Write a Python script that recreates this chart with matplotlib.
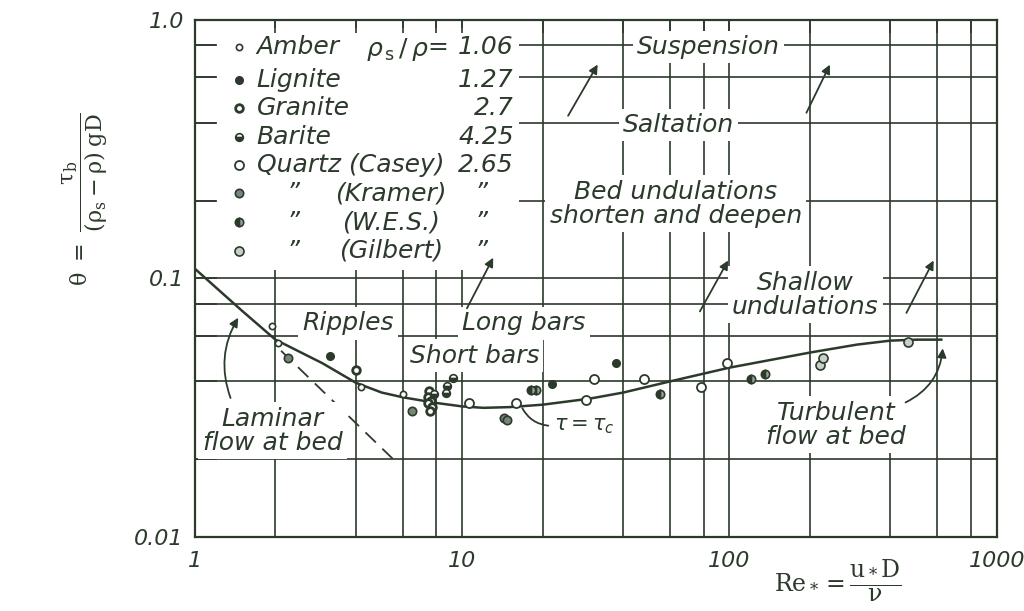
import matplotlib
matplotlib.use("Agg")
import matplotlib.pyplot as plt
from matplotlib.patches import Rectangle
from matplotlib.ticker import LogLocator, NullFormatter, FixedLocator, FixedFormatter

ink = '#2c3a2c'

# Shields curve (critical shear stress)
curve_re = [1, 1.5, 2, 3, 4, 5, 6, 8, 10, 12, 15, 20, 30, 40, 60, 100, 200, 300, 400, 500, 620]
curve_theta = [0.109, 0.075, 0.058, 0.047, 0.0395, 0.0362, 0.0347, 0.0330, 0.0320, 0.0316,
               0.0318, 0.0325, 0.0343, 0.0362, 0.0400, 0.0452, 0.0517, 0.0555, 0.0575, 0.058, 0.058]

# laminar asymptote (dashed)
laminar_re = [2.1, 5.6]
laminar_theta = [0.0525, 0.0197]

# experimental points per material
amber_re = [1.94, 2.04, 4.17, 6.0]
amber_th = [0.0657, 0.0565, 0.0381, 0.0358]
lignite_re = [3.19, 21.7, 37.5]
lignite_th = [0.0503, 0.0392, 0.0472]
granite_re = [4.02, 7.5, 7.47, 7.66, 7.43, 7.7, 7.6]
granite_th = [0.0444, 0.0368, 0.0349, 0.0337, 0.0330, 0.0318, 0.0306]
barite_re = [7.86, 8.7, 8.8, 9.2]
barite_th = [0.0358, 0.0362, 0.0385, 0.0413]
casey_re = [10.6, 15.9, 29, 31, 47.9, 78, 97.5]
casey_th = [0.0331, 0.0331, 0.0340, 0.0410, 0.0410, 0.0381, 0.0472]
kramer_re = [2.22, 6.5, 14.3, 14.7]
kramer_th = [0.0494, 0.0308, 0.0289, 0.0284]
wes_re = [18.1, 18.9, 55, 120, 136]
wes_th = [0.0371, 0.0371, 0.0358, 0.0410, 0.0428]
gilbert_re = [218, 224, 467]
gilbert_th = [0.0464, 0.0494, 0.057]

names = ['Amber', 'Lignite', 'Granite', 'Barite', 'Quartz (Casey)', '(Kramer)', '(W.E.S.)', '(Gilbert)']
ratios = ['1.06', '1.27', '2.7', '4.25', '2.65', '\u201d', '\u201d', '\u201d']

styles = [
    dict(marker='o', ms=4.5, mfc='white', mec=ink, mew=1.2),
    dict(marker='o', ms=5.5, mfc=ink, mec=ink, mew=1.0),
    dict(marker='o', ms=5.5, mfc='white', mec=ink, mew=2.0),
    dict(marker='o', ms=5.5, mfc=ink, mec=ink, mew=1.2, fillstyle='bottom', markerfacecoloralt='white'),
    dict(marker='o', ms=6.5, mfc='white', mec=ink, mew=1.3),
    dict(marker='o', ms=6, mfc='#7a857a', mec=ink, mew=1.2),
    dict(marker='o', ms=6, mfc=ink, mec=ink, mew=1.2, fillstyle='left', markerfacecoloralt='#9aa39a'),
    dict(marker='o', ms=6.5, mfc='#c8cec8', mec=ink, mew=1.2),
]
series = [(amber_re, amber_th), (lignite_re, lignite_th), (granite_re, granite_th),
          (barite_re, barite_th), (casey_re, casey_th), (kramer_re, kramer_th),
          (wes_re, wes_th), (gilbert_re, gilbert_th)]

grid_x = [2, 4, 6, 8, 10, 20, 40, 60, 80, 100, 200, 400, 600, 800]
grid_y = [0.02, 0.04, 0.06, 0.08, 0.1, 0.2, 0.4, 0.6, 0.8]

fig = plt.figure(figsize=(10.24, 6.11), dpi=100)
ax = fig.add_axes([0.1904, 0.1211, 0.783, 0.8462])
ax.set_xscale('log')
ax.set_yscale('log')
ax.set_xlim(1, 1000)
ax.set_ylim(0.01, 1.0)

for gx in grid_x:
    ax.axvline(gx, color=ink, lw=1.2, zorder=1)
for gy in grid_y:
    ax.axhline(gy, color=ink, lw=1.2, zorder=1)

# blank area under the key
ax.add_patch(Rectangle((1.2, 0.108), 16.3 - 1.2, 0.93 - 0.108, facecolor='white',
                       edgecolor='none', zorder=1.2))

for sp in ax.spines.values():
    sp.set_color(ink)
    sp.set_linewidth(1.6)

ax.xaxis.set_major_locator(FixedLocator([1, 10, 100, 1000]))
ax.xaxis.set_major_formatter(FixedFormatter(['1', '10', '100', '1000']))
ax.yaxis.set_major_locator(FixedLocator([0.01, 0.1, 1.0]))
ax.yaxis.set_major_formatter(FixedFormatter(['0.01', '0.1', '1.0']))
ax.xaxis.set_minor_locator(LogLocator(subs=[2, 4, 6, 8]))
ax.yaxis.set_minor_locator(LogLocator(subs=[2, 4, 6, 8]))
ax.xaxis.set_minor_formatter(NullFormatter())
ax.yaxis.set_minor_formatter(NullFormatter())
ax.tick_params(axis='x', which='both', direction='in', bottom=False, top=True,
               length=9, width=1.2, color=ink, pad=10)
ax.tick_params(axis='y', which='both', direction='in', left=True, right=False,
               length=16, width=1.2, color=ink, pad=8)
for lab in ax.get_xticklabels() + ax.get_yticklabels():
    lab.set_fontstyle('italic')
    lab.set_fontsize(16)
    lab.set_color(ink)

ax.plot(curve_re, curve_theta, color=ink, lw=1.8, zorder=2)
ax.plot(laminar_re, laminar_theta, color=ink, lw=1.3, ls=(0, (8, 5)), zorder=2)

for (xs, ys), st in zip(series, styles):
    ax.plot(xs, ys, ls='none', zorder=3, **st)

# key
tk = dict(color=ink, fontsize=18, fontstyle='italic', va='center', zorder=4)
key_y = [0.786, 0.585, 0.456, 0.352, 0.274, 0.214, 0.165, 0.128]
for i, (nm, r, st) in enumerate(zip(names, ratios, styles)):
    y = key_y[i]
    ax.plot([1.46], [y], ls='none', zorder=4, **st)
    if i < 5:
        ax.text(1.70, y, nm, ha='left', **tk)
        ax.text(15.6, y, r, ha='right', **tk)
    else:
        ax.text(2.32, y, '\u201d', ha='center', **tk)
        ax.text(5.4, y, nm, ha='center', **tk)
        ax.text(11.8, y, '\u201d', ha='center', **tk)
ax.text(5.7, 0.77, r'$\rho_{\,\mathrm{s}}\,/\,\rho$', ha='center', color=ink, fontsize=18,
        va='center', zorder=4)
ax.text(8.9, 0.786, '=', ha='right', color=ink, fontsize=18, va='center', zorder=4)

# regime labels
box = dict(facecolor='white', edgecolor='none', pad=3)
lab = dict(color=ink, fontsize=18, fontstyle='italic', ha='center', va='center', zorder=4, bbox=box)
ax.text(83.5, 0.786, 'Suspension', **lab)
ax.text(64.5, 0.392, 'Saltation', **lab)
ax.text(63, 0.195, 'Bed undulations\nshorten and deepen', linespacing=1.0, **lab)
ax.text(192, 0.0867, 'Shallow\nundulations', linespacing=1.0, **lab)
ax.text(3.75, 0.067, 'Ripples', **lab)
ax.text(17.0, 0.067, 'Long bars', **lab)
ax.text(11.1, 0.0503, 'Short bars', **lab)
ax.text(1.95, 0.0258, 'Laminar\nflow at bed', linespacing=1.0, **lab)
ax.text(250, 0.0272, 'Turbulent\nflow at bed', linespacing=1.0, **lab)
ax.text(22, 0.0269, r'$\tau = \tau_c$', color=ink, fontsize=15, ha='left', va='center',
        zorder=4, bbox=dict(facecolor='white', edgecolor='none', pad=1))

arr = dict(arrowstyle='-|>', color=ink, lw=1.3, mutation_scale=13)
for tail, head in [((24.6, 0.417), (32.5, 0.687)),
                   ((192, 0.428), (240, 0.687)),
                   ((10.3, 0.075), (13.2, 0.123)),
                   ((76.6, 0.073), (100, 0.12)),
                   ((454, 0.072), (587, 0.12))]:
    ax.annotate('', xy=head, xytext=tail, arrowprops=arr, zorder=4)

ax.annotate('', xy=(1.47, 0.072), xytext=(1.37, 0.0337),
            arrowprops=dict(connectionstyle='arc3,rad=-0.25', **arr), zorder=4)
ax.annotate('', xy=(629, 0.055), xytext=(446, 0.0328),
            arrowprops=dict(connectionstyle='arc3,rad=0.3', **arr), zorder=4)
ax.annotate('', xy=(16.6, 0.0322), xytext=(21.5, 0.0269),
            arrowprops=dict(arrowstyle='-', color=ink, lw=1.3,
                            connectionstyle='arc3,rad=-0.3'), zorder=4)

fig.text(0.083, 0.675, r'$\mathrm{\theta\ =\ \dfrac{\tau_b}{(\rho_s-\rho)\;gD}}$', rotation=90,
         color=ink, fontsize=16, ha='center', va='center', math_fontfamily='dejavuserif')
fig.text(0.818, 0.05, r'$\mathrm{Re_* = \dfrac{u_*D}{\nu}}$', color=ink, fontsize=17,
         ha='center', va='center', math_fontfamily='dejavuserif')

fig.savefig('out.png', dpi=100, facecolor='white')
